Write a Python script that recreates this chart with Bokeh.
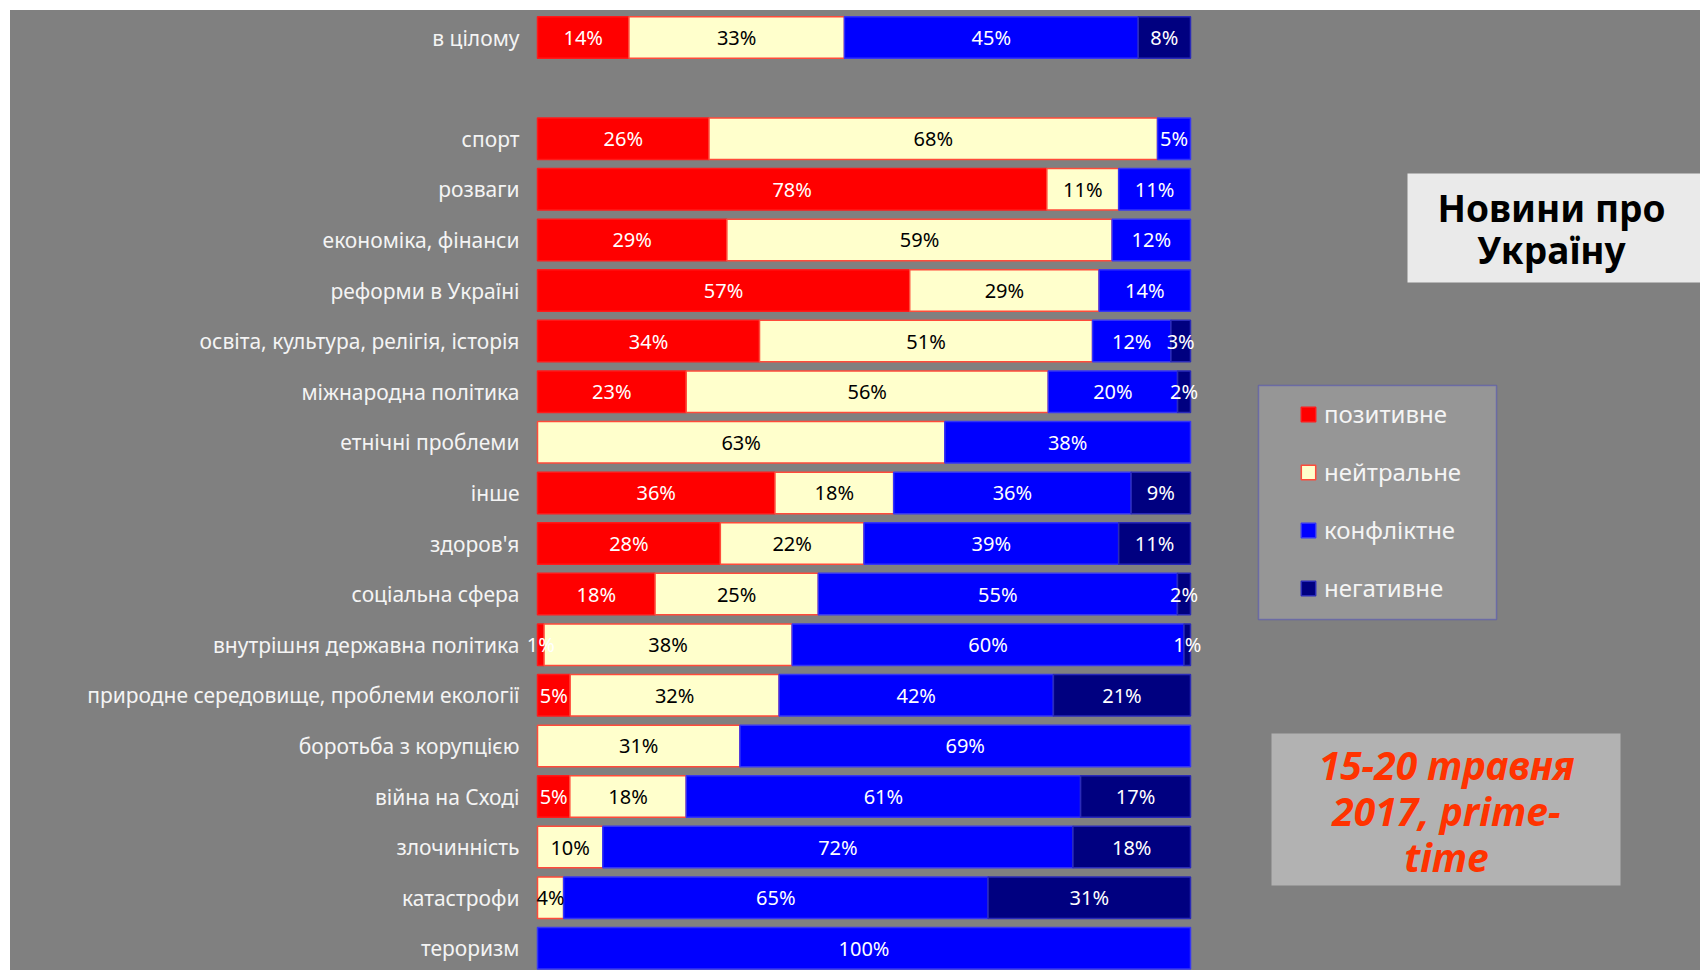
from bokeh.plotting import figure
from bokeh.layouts import column, row
from bokeh.models import (Range1d, FixedTicker, ColumnDataSource, BoxAnnotation,
                          Label, Legend, LegendItem, Spacer)
from bokeh.embed import file_html
from bokeh.resources import INLINE
from bokeh.core.properties import value

# ---------------- data ----------------
categories = ["в цілому", "спорт", "розваги", "економіка, фінанси", "реформи в Україні",
              "освіта, культура, релігія, історія", "міжнародна політика",
              "етнічні проблеми", "інше", "здоров'я", "соціальна сфера",
              "внутрішня державна політика", "природне середовище, проблеми екології",
              "боротьба з корупцією", "війна на Сході", "злочинність", "катастрофи",
              "тероризм"]
positive = [14, 26, 78, 29, 57, 34, 23, 0, 36, 28, 18, 1, 5, 0, 5, 0, 0, 0]
neutral = [33, 68, 11, 59, 29, 51, 56, 63, 18, 22, 25, 38, 32, 31, 18, 10, 4, 0]
conflict = [45, 5, 11, 12, 14, 12, 20, 38, 36, 39, 55, 60, 42, 69, 61, 72, 65, 100]
negative = [8, 0, 0, 0, 0, 3, 2, 0, 9, 11, 2, 1, 21, 0, 17, 18, 31, 0]
series_names = ["позитивне", "нейтральне", "конфліктне", "негативне"]
title_text = "Новини про\nУкраїну"
period_text = "15-20 травня\n2017, prime-\ntime"

# ---------------- styling / layout ----------------
FONT = "Noto Sans"
BG = "#808080"
fill_colors = ["#FF0000", "#FFFFCC", "#0000FF", "#000080"]
line_colors = ["#FF1A1A", "#FF4B3A", "#3535F5", "#2A2AB8"]
label_colors = ["#FFFFFF", "#000000", "#FFFFFF", "#FFFFFF"]

PAGE_W, PAGE_H = 1700, 970
OX, OY = 10, 10                  # white strip on the left / top
W, H = PAGE_W - OX, PAGE_H - OY
BAR_L, BAR_W = 537.0, 653.0      # page px of 0 % and width of 100 %
ROW0, ROW_H = 37.0, 50.6         # page px of first row centre, row pitch
FRAME_L = 525.0


def dx(px):
    return (px - BAR_L) / BAR_W


def dy(py):
    return (py - ROW0) / ROW_H


# row slots: the overall row, an empty row, then the topics
slots = [0] + [i + 1 for i in range(1, len(categories))]

p = figure(width=W, height=H, output_backend="svg", toolbar_location=None,
           x_axis_type=None,
           x_range=Range1d(dx(FRAME_L), dx(PAGE_W)),
           y_range=Range1d(dy(PAGE_H), dy(OY)),
           min_border_left=int(FRAME_L - OX), min_border_right=0,
           min_border_top=0, min_border_bottom=0)
p.background_fill_color = BG
p.border_fill_color = BG
p.styles = {"background-color": BG}
p.outline_line_color = None
p.xgrid.visible = False
p.ygrid.visible = False

ax = p.yaxis[0]
ax.ticker = FixedTicker(ticks=slots)
ax.major_label_overrides = {s: c for s, c in zip(slots, categories)}
ax.axis_line_color = None
ax.major_tick_line_color = None
ax.minor_tick_line_color = None
ax.major_label_standoff = 0
ax.major_label_text_font = FONT
ax.major_label_text_font_size = "21px"
ax.major_label_text_color = "#F4F4F4"

# ---------------- stacked 100 % bars ----------------
series = [positive, neutral, conflict, negative]
totals = [sum(v) for v in zip(*series)]
cum = [0.0] * len(categories)
renderers = []
tx, ty, tt, tc = [], [], [], []
for k, vals in enumerate(series):
    ys, ls, rs = [], [], []
    for i, v in enumerate(vals):
        frac = v / totals[i]
        if v > 0:
            ys.append(slots[i])
            ls.append(cum[i])
            rs.append(cum[i] + frac)
            tx.append(cum[i] + frac / 2)
            ty.append(slots[i])
            tt.append(f"{v}%")
            tc.append(label_colors[k])
        cum[i] += frac
    src = ColumnDataSource(dict(y=ys, left=ls, right=rs))
    r = p.hbar(y="y", left="left", right="right", height=0.82, source=src,
               fill_color=fill_colors[k], line_color=line_colors[k], line_width=1.5)
    renderers.append(r)

lab_src = ColumnDataSource(dict(x=tx, y=ty, text=tt, color=tc))
p.text(x="x", y="y", text="text", source=lab_src, text_color="color",
       text_align="center", text_baseline="middle",
       text_font=value(FONT), text_font_size="20px")

# ---------------- title box ----------------
p.add_layout(BoxAnnotation(left=dx(1407), right=dx(1700), top=dy(173), bottom=dy(282),
                           fill_color="#EAEAEA", fill_alpha=1, line_color=None))
p.add_layout(Label(x=dx(1551), y=dy(228), text=title_text, text_align="center",
                   text_baseline="middle", text_font=FONT, text_font_style="bold",
                   text_font_size="37px", text_color="#000000", text_line_height=0.84))

# ---------------- legend ----------------
p.add_layout(BoxAnnotation(left=dx(1258), right=dx(1496), top=dy(385), bottom=dy(619),
                           fill_color="#969696", fill_alpha=1,
                           line_color="#2222DD", line_width=1.5))
legend = Legend(items=[LegendItem(label=n, renderers=[r]) for n, r in zip(series_names, renderers)],
                location=(1299 - FRAME_L, PAGE_H - 604),
                orientation="vertical", glyph_width=18, glyph_height=18,
                label_height=30, spacing=25, padding=0, margin=0,
                label_standoff=7, background_fill_alpha=0, border_line_color=None,
                label_text_color="#F4F4F4", label_text_font=FONT,
                label_text_font_size="24px")
p.add_layout(legend)

# ---------------- period box ----------------
p.add_layout(BoxAnnotation(left=dx(1271), right=dx(1620), top=dy(733), bottom=dy(885),
                           fill_color="#B2B2B2", fill_alpha=1, line_color=None))
p.add_layout(Label(x=dx(1446), y=dy(810), text=period_text, text_align="center",
                   text_baseline="middle", text_font=FONT, text_font_style="bold italic",
                   text_font_size="39px", text_color="#FF3300", text_line_height=0.86))

layout = column(Spacer(width=PAGE_W, height=OY),
                row(Spacer(width=OX, height=H), p))

open("out.html", "w").write(file_html(layout, INLINE))
